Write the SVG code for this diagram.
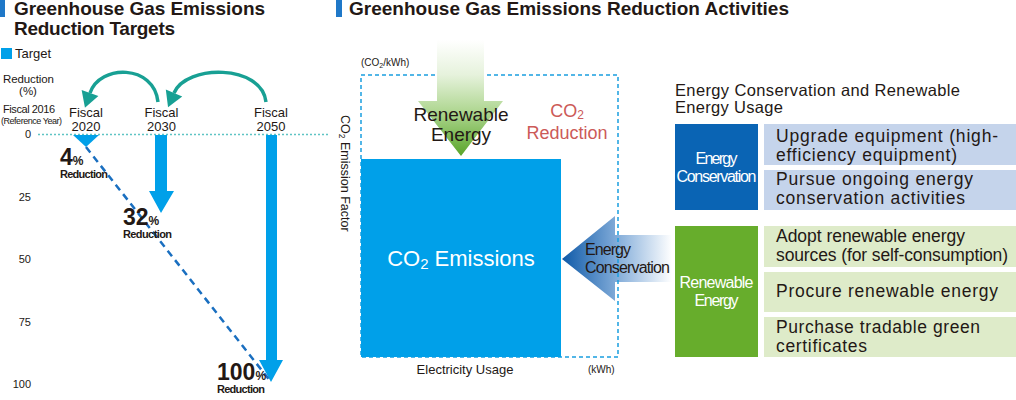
<svg xmlns="http://www.w3.org/2000/svg" width="1016" height="400" viewBox="0 0 1016 400">
<style>
text{font-family:"Liberation Sans",Arial,sans-serif;fill:#231815}
.title{font-size:19px;font-weight:bold}
.axis{font-size:11px;text-anchor:end}
.fiscal{font-size:13px;text-anchor:middle}
.pct{font-weight:bold}
.red{font-weight:bold;font-size:11px}
.box{font-size:17.5px}
.wt{fill:#ffffff;font-size:16px;text-anchor:middle}
.cyan{fill:#00a0e9}
</style>
<defs>
<marker id="tealHead" markerUnits="userSpaceOnUse" markerWidth="20" markerHeight="20" refX="0" refY="0" viewBox="0 -9 15 18" orient="auto">
<path d="M0,-8 L14,0 L0,8 z" fill="#18a094"/>
</marker>
<linearGradient id="greenGrad" gradientUnits="userSpaceOnUse" x1="0" y1="40" x2="0" y2="156">
<stop offset="0" stop-color="#ffffff"/>
<stop offset="0.3" stop-color="#e6f2dc"/>
<stop offset="0.6" stop-color="#b2d895"/>
<stop offset="1" stop-color="#5aa52a"/>
</linearGradient>
<linearGradient id="blueGrad" gradientUnits="userSpaceOnUse" x1="562" y1="0" x2="672" y2="0">
<stop offset="0" stop-color="#0f5aa8"/>
<stop offset="0.5" stop-color="#82acd9"/>
<stop offset="1" stop-color="#ffffff"/>
</linearGradient>
</defs>

<!-- Left panel -->
<g id="left-title">
<rect x="-1" y="0" width="6" height="17" fill="#1f78c8"/>
<text class="title" x="14" y="15" textLength="251">Greenhouse Gas Emissions</text>
<text class="title" x="14" y="35" textLength="161">Reduction Targets</text>
</g>
<g id="legend">
<rect x="1" y="48" width="11" height="11" class="cyan"/>
<text x="15" y="58" font-size="13">Target</text>
</g>
<g id="axis">
<text x="3" y="83" font-size="11.5" textLength="51">Reduction</text>
<text x="28" y="95" font-size="11.5" text-anchor="middle">(%)</text>
<text x="3" y="113" font-size="11" textLength="52">Fiscal 2016</text>
<text x="1" y="124" font-size="9" textLength="61">(Reference Year)</text>
<text class="axis" x="31" y="138">0</text>
<text class="axis" x="31" y="201">25</text>
<text class="axis" x="31" y="263">50</text>
<text class="axis" x="31" y="326">75</text>
<text class="axis" x="31" y="388">100</text>
<line x1="38" y1="134.5" x2="330" y2="134.5" stroke="#5fc4c4" stroke-width="1.6" stroke-dasharray="2 2"/>
</g>
<g id="fiscal2020">
<text class="fiscal" x="86" y="117">Fiscal</text>
<text class="fiscal" x="86" y="131">2020</text>
<polygon points="73,135 99,135 86,147" class="cyan"/>
</g>
<g id="fiscal2030">
<text class="fiscal" x="161.5" y="117">Fiscal</text>
<text class="fiscal" x="161.5" y="131">2030</text>
<polygon points="155,135 167,135 167,191 174,191 161,213 149,191 155,191" class="cyan"/>
</g>
<g id="fiscal2050">
<text class="fiscal" x="271" y="117">Fiscal</text>
<text class="fiscal" x="271" y="131">2050</text>
<polygon points="266,135 277,135 277,360 283,360 271,382 259,360 266,360" class="cyan"/>
</g>
<g id="connectors">
<line x1="86" y1="147" x2="271" y2="382" stroke="#1a6fc0" stroke-width="2.5" stroke-dasharray="7 5"/>
<path d="M158,102 C154,64 100,64 90,93" fill="none" stroke="#18a094" stroke-width="3.5" marker-end="url(#tealHead)"/>
<path d="M266,102 C262,64 186,64 174,93" fill="none" stroke="#18a094" stroke-width="3.5" marker-end="url(#tealHead)"/>
</g>
<g id="labels">
<text class="pct" x="60" y="165"><tspan font-size="23">4</tspan><tspan font-size="12">%</tspan></text>
<text class="red" x="60" y="178" textLength="48">Reduction</text>
<text class="pct" x="123" y="225"><tspan font-size="23">32</tspan><tspan font-size="12">%</tspan></text>
<text class="red" x="123" y="238" textLength="49">Reduction</text>
<text class="pct" x="217" y="380"><tspan font-size="23">100</tspan><tspan font-size="12">%</tspan></text>
<text class="red" x="217" y="393" textLength="48">Reduction</text>
</g>

<!-- Middle panel -->
<g id="mid-title">
<rect x="336" y="0" width="6" height="17" fill="#1f78c8"/>
<text class="title" x="349" y="15" textLength="440">Greenhouse Gas Emissions Reduction Activities</text>
</g>
<g id="chart">
<text x="361" y="66" font-size="10">(CO<tspan font-size="7" dy="2">2</tspan><tspan dy="-2">/kWh)</tspan></text>
<text x="341" y="115" font-size="12.5" transform="rotate(90 341 115)">CO<tspan font-size="8.5" dy="2">2</tspan><tspan dy="-2"> Emission Factor</tspan></text>
<polygon points="562,259 615,216 615,235 672,235 672,282 615,282 615,301" fill="url(#blueGrad)"/>
<rect x="361" y="75" width="257" height="282" fill="none" stroke="#1a9ee0" stroke-width="1.5" stroke-dasharray="4 3"/>
<rect x="361" y="159" width="200" height="198" class="cyan"/>
<text x="461" y="266" font-size="22" text-anchor="middle" style="fill:#ffffff">CO<tspan font-size="15" dy="3">2</tspan><tspan dy="-3"> Emissions</tspan></text>
<text x="465" y="374" font-size="13" text-anchor="middle">Electricity Usage</text>
<text x="588" y="373" font-size="10">(kWh)</text>
</g>
<g id="renewable-arrow">
<polygon points="437,40 484,40 484,101 503,101 461,156 418,101 437,101" fill="url(#greenGrad)"/>
<text x="461" y="121" font-size="19" text-anchor="middle">Renewable</text>
<text x="461" y="141" font-size="19" text-anchor="middle">Energy</text>
</g>
<g id="co2-reduction">
<text x="567" y="117" font-size="18" text-anchor="middle" style="fill:#cc5a58">CO<tspan font-size="12" dy="2">2</tspan></text>
<text x="567" y="139" font-size="18" text-anchor="middle" style="fill:#cc5a58">Reduction</text>
</g>
<g id="conservation-arrow">
<text x="585" y="255" font-size="16" textLength="46">Energy</text>
<text x="585" y="273" font-size="16" textLength="85">Conservation</text>
</g>

<!-- Right panel -->
<g id="right-heading">
<text x="675" y="96" font-size="16.5" textLength="285">Energy Conservation and Renewable</text>
<text x="675" y="113" font-size="16.5" textLength="108">Energy Usage</text>
</g>
<g id="energy-conservation">
<rect x="675" y="124" width="83" height="86" fill="#0a64b4"/>
<text class="wt" x="716.5" y="164" textLength="42">Energy</text>
<text class="wt" x="716.5" y="182" textLength="80">Conservation</text>
</g>
<g id="ec-item1">
<rect x="764" y="124" width="252" height="41" fill="#c5d4eb"/>
<text class="box" x="776" y="142" textLength="222">Upgrade equipment (high-</text>
<text class="box" x="776" y="161" textLength="181">efficiency equipment)</text>
</g>
<g id="ec-item2">
<rect x="764" y="170" width="252" height="40" fill="#c5d4eb"/>
<text class="box" x="776" y="185" textLength="197">Pursue ongoing energy</text>
<text class="box" x="776" y="204" textLength="189">conservation activities</text>
</g>
<g id="renewable-energy">
<rect x="675" y="226" width="83" height="131" fill="#67ad2c"/>
<text class="wt" x="716.5" y="288" textLength="74">Renewable</text>
<text class="wt" x="716.5" y="306" textLength="44">Energy</text>
</g>
<g id="re-item1">
<rect x="764" y="226" width="252" height="41" fill="#deebc9"/>
<text class="box" x="776" y="242" textLength="189">Adopt renewable energy</text>
<text class="box" x="776" y="261" textLength="232">sources (for self-consumption)</text>
</g>
<g id="re-item2">
<rect x="764" y="272" width="252" height="40" fill="#deebc9"/>
<text class="box" x="776" y="297" textLength="222">Procure renewable energy</text>
</g>
<g id="re-item3">
<rect x="764" y="317" width="252" height="40" fill="#deebc9"/>
<text class="box" x="776" y="333" textLength="204">Purchase tradable green</text>
<text class="box" x="776" y="352" textLength="91">certificates</text>
</g>
</svg>
